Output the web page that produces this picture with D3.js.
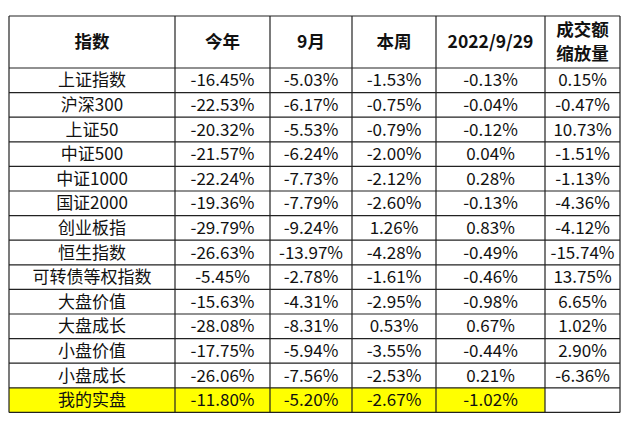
<!DOCTYPE html>
<html>
<head>
<meta charset="utf-8">
<script src="https://cdn.jsdelivr.net/npm/d3@7"></script>
<style>
  body { margin: 0; background: #fff; }
  text { font-family: "Noto Sans CJK SC", "Noto Sans", sans-serif; fill: #111; }
</style>
</head>
<body>
<script>
(function(d3) {
    'use strict';

    var headers = ['指数', '今年', '9月', '本周', '2022/9/29', '成交额\n缩放量'];
    var names = ['上证指数', '沪深300', '上证50', '中证500', '中证1000', '国证2000', '创业板指',
        '恒生指数', '可转债等权指数', '大盘价值', '大盘成长', '小盘价值', '小盘成长', '我的实盘'];
    var ytd = ['-16.45%', '-22.53%', '-20.32%', '-21.57%', '-22.24%', '-19.36%', '-29.79%',
        '-26.63%', '-5.45%', '-15.63%', '-28.08%', '-17.75%', '-26.06%', '-11.80%'];
    var sep = ['-5.03%', '-6.17%', '-5.53%', '-6.24%', '-7.73%', '-7.79%', '-9.24%',
        '-13.97%', '-2.78%', '-4.31%', '-8.31%', '-5.94%', '-7.56%', '-5.20%'];
    var week = ['-1.53%', '-0.75%', '-0.79%', '-2.00%', '-2.12%', '-2.60%', '1.26%',
        '-4.28%', '-1.61%', '-2.95%', '0.53%', '-3.55%', '-2.53%', '-2.67%'];
    var day = ['-0.13%', '-0.04%', '-0.12%', '0.04%', '0.28%', '-0.13%', '0.83%',
        '-0.49%', '-0.46%', '-0.98%', '0.67%', '-0.44%', '0.21%', '-1.02%'];
    var volume = ['0.15%', '-0.47%', '10.73%', '-1.51%', '-1.13%', '-4.36%', '-4.12%',
        '-15.74%', '13.75%', '6.65%', '1.02%', '2.90%', '-6.36%', ''];

    var colEdges = [9, 175, 270, 352, 436, 545, 620];
    var top = 16, headH = 52, rowH = 24.6;
    var highlight = '我的实盘';

    var columns = [names, ytd, sep, week, day, volume];
    var rows = names.map(function(n, i) {
        return columns.map(function(c) { return c[i]; });
    });

    var svg = d3.select('body').append('svg')
        .attr('width', 640)
        .attr('height', 427);

    var y = d3.scaleBand()
        .domain(d3.range(rows.length))
        .range([top + headH, top + headH + rowH * rows.length]);

    // highlighted row background
    rows.forEach(function(r, i) {
        if (r[0] !== highlight) return;
        r.forEach(function(v, j) {
            if (v === '') return;
            svg.append('rect')
                .attr('x', colEdges[j])
                .attr('y', y(i))
                .attr('width', colEdges[j + 1] - colEdges[j])
                .attr('height', y.bandwidth())
                .attr('fill', '#ffff00');
        });
    });

    // header
    headers.forEach(function(h, j) {
        var cx = (colEdges[j] + colEdges[j + 1]) / 2;
        var lines = h.split('\n');
        var t = svg.append('text')
            .attr('text-anchor', 'middle')
            .attr('font-size', 17.5)
            .attr('font-weight', 'bold');
        lines.forEach(function(l, k) {
            t.append('tspan')
                .attr('x', cx)
                .attr('y', top + headH / 2 + (k - (lines.length - 1) / 2) * 24)
                .attr('dy', '0.35em')
                .text(l);
        });
    });

    // body cells
    rows.forEach(function(r, i) {
        r.forEach(function(v, j) {
            svg.append('text')
                .attr('x', (colEdges[j] + colEdges[j + 1]) / 2)
                .attr('y', y(i) + y.bandwidth() / 2)
                .attr('dy', '0.36em')
                .attr('text-anchor', 'middle')
                .attr('font-size', 17)
                .text(v);
        });
    });

    // grid lines
    var bottom = top + headH + rowH * rows.length;
    var hLines = [top, top + headH].concat(d3.range(1, rows.length + 1).map(function(i) {
        return top + headH + rowH * i;
    }));
    svg.selectAll('line.h')
        .data(hLines)
        .enter().append('line')
        .attr('x1', colEdges[0]).attr('x2', colEdges[colEdges.length - 1])
        .attr('y1', function(d) { return d; }).attr('y2', function(d) { return d; })
        .attr('stroke', '#222').attr('stroke-width', 1.2);
    svg.selectAll('line.v')
        .data(colEdges)
        .enter().append('line')
        .attr('x1', function(d) { return d; }).attr('x2', function(d) { return d; })
        .attr('y1', top).attr('y2', bottom)
        .attr('stroke', '#222').attr('stroke-width', 1.2);

})(window.d3);
</script>
</body>
</html>
